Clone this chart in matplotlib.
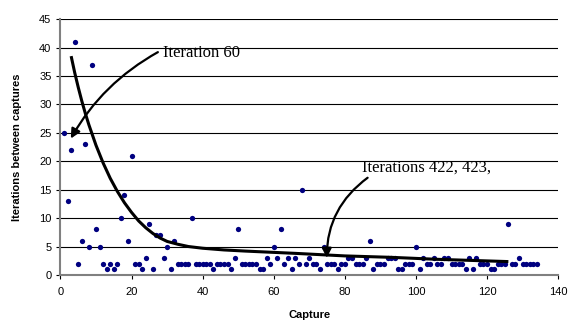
import numpy as np
import matplotlib.pyplot as plt

# captures and iterations between captures
captures = np.arange(1, 135)
iterations = [25, 13, 22, 41, 2, 6, 23, 5, 37, 8,
              5, 2, 1, 2, 1, 2, 10, 14, 6, 21,
              2, 2, 1, 3, 9, 1, 7, 7, 3, 5,
              1, 6, 2, 2, 2, 2, 10, 2, 2, 2,
              2, 2, 1, 2, 2, 2, 2, 1, 3, 8,
              2, 2, 2, 2, 2, 1, 1, 3, 2, 5,
              3, 8, 2, 3, 1, 3, 2, 15, 2, 3,
              2, 2, 1, 5, 2, 2, 2, 1, 2, 2,
              3, 3, 2, 2, 2, 3, 6, 1, 2, 2,
              2, 3, 3, 3, 1, 1, 2, 2, 2, 5,
              1, 3, 2, 2, 3, 2, 2, 3, 3, 2,
              2, 2, 2, 1, 3, 1, 3, 2, 2, 2,
              1, 1, 2, 2, 2, 9, 2, 2, 3, 2,
              2, 2, 2, 2]

# hand-drawn trend curve
trend_x = [3, 4, 5, 6, 7, 8, 10, 12, 14, 16, 18, 20, 22, 24, 26, 28, 30, 33, 36,
           40, 46, 52, 66, 80, 93, 106, 126]
trend_y = [38.5, 35.6, 33.0, 30.6, 28.4, 26.4, 22.8, 19.7, 17.0, 14.7, 12.7, 11.0,
           9.5, 8.3, 7.3, 6.5, 5.9, 5.4, 5.0, 4.7, 4.4, 4.2, 3.8, 3.35, 3.1, 2.75, 2.35]

plt.rcParams['font.family'] = ['Liberation Sans', 'DejaVu Sans']

fig = plt.figure(figsize=(5.76, 3.25), dpi=100)
ax = fig.add_axes([0.105, 0.154, 0.864, 0.787])

for v in range(5, 50, 5):
    ax.axhline(v, color='black', lw=0.8, zorder=1)

ax.plot(captures, iterations, 'o', color='#000080', ms=3.8, mew=0, zorder=3)
ax.plot(trend_x, trend_y, color='black', lw=2.2, zorder=4,
        solid_capstyle='butt', solid_joinstyle='round')

# callouts
ax.text(28.9, 39.0, 'Iteration 60', fontsize=12, family='Liberation Serif',
        va='center', ha='left')
ax.annotate('', xy=(2.9, 24.0), xytext=(27.4, 39.2),
            arrowprops=dict(arrowstyle='-|>', color='black', lw=1.6,
                            connectionstyle='arc3,rad=0.14', shrinkA=0, shrinkB=0,
                            mutation_scale=14))
ax.text(84.7, 18.9, 'Iterations 422, 423,', fontsize=12, family='Liberation Serif',
        va='center', ha='left')
ax.annotate('', xy=(74.9, 3.0), xytext=(86.4, 17.1),
            arrowprops=dict(arrowstyle='-|>', color='black', lw=1.6,
                            connectionstyle='arc3,rad=0.25', shrinkA=0, shrinkB=0,
                            mutation_scale=14))

ax.set_xlim(0, 140)
ax.set_ylim(0, 45)
ax.set_xticks(range(0, 141, 20))
ax.set_yticks(range(0, 46, 5))
ax.tick_params(labelsize=8, length=3, width=0.8, colors='black')
ax.tick_params(axis='x', pad=6)
for s in ['top', 'right']:
    ax.spines[s].set_visible(False)
ax.spines['left'].set_color('#808080')
ax.spines['left'].set_linewidth(1.5)
ax.spines['bottom'].set_color('#808080')
ax.spines['bottom'].set_linewidth(1.5)

ax.set_xlabel('Capture', fontsize=8, fontweight='bold', labelpad=9)
ax.set_ylabel('Iterations between captures', fontsize=8, fontweight='bold', labelpad=12)

fig.savefig('out.png', dpi=100)
